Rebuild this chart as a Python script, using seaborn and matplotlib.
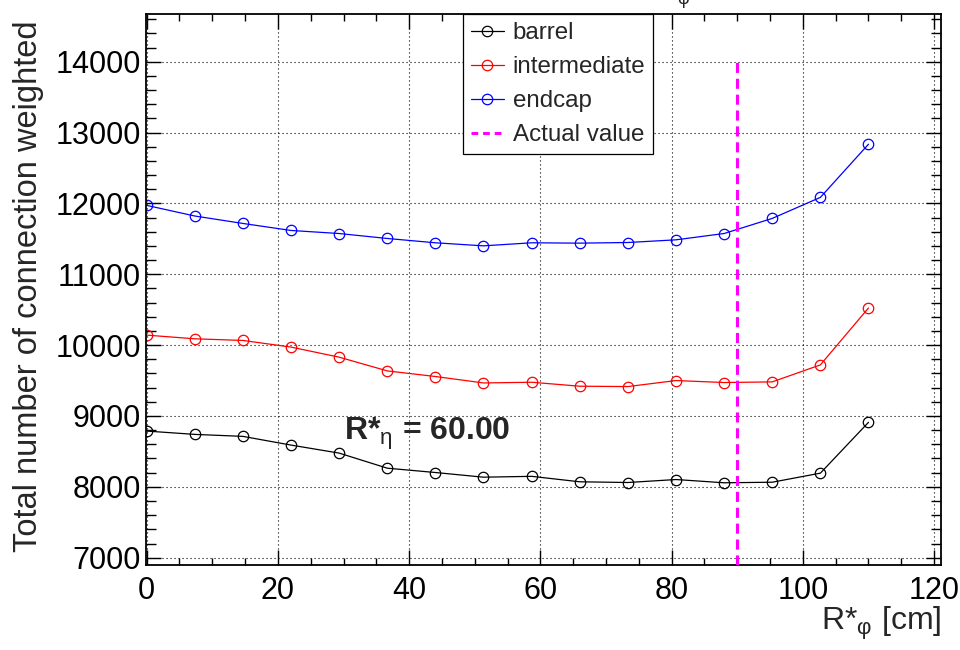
import matplotlib
matplotlib.use("Agg")
import matplotlib.pyplot as plt
from matplotlib.lines import Line2D
from matplotlib.ticker import MultipleLocator
import seaborn as sns

# R*_phi scan points [cm]
r_phi = [0.0, 7.33, 14.67, 22.0, 29.33, 36.67, 44.0, 51.33,
         58.67, 66.0, 73.33, 80.67, 88.0, 95.33, 102.67, 110.0]

# weighted connection counts per detector region
barrel = [8787, 8740, 8712, 8589, 8476, 8263, 8202, 8136,
          8148, 8071, 8061, 8103, 8057, 8065, 8193, 8910]
intermediate = [10141, 10089, 10066, 9972, 9830, 9636, 9557, 9466,
                9476, 9420, 9415, 9500, 9472, 9481, 9721, 10524]
endcap = [11972, 11822, 11717, 11618, 11575, 11505, 11444, 11401,
          11444, 11439, 11448, 11486, 11575, 11788, 12085, 12835]

series_names = ["barrel", "intermediate", "endcap"]
series_colors = ["black", "red", "blue"]

actual_value = 90.0
actual_top = 14000
r_eta = 60.00

sns.set_style("ticks")
plt.rcParams["font.family"] = ["Liberation Sans", "DejaVu Sans"]
plt.rcParams["mathtext.fontset"] = "custom"
plt.rcParams["mathtext.rm"] = "Liberation Sans"
plt.rcParams["mathtext.it"] = "Liberation Sans:italic"
plt.rcParams["mathtext.bf"] = "Liberation Sans:bold"

fig = plt.figure(figsize=(9.6, 6.5), dpi=100)
ax = fig.add_axes([0.1521, 0.1308, 0.8281, 0.8469])

ymin, ymax = 6897, 14666
for name, vals, col in zip(series_names, [barrel, intermediate, endcap], series_colors):
    sns.lineplot(x=r_phi, y=vals, ax=ax, color=col, linewidth=0.9,
                 marker="o", markersize=7.5, mfc="none", mec=col, mew=0.9,
                 legend=False)

ax.vlines(actual_value, ymin, actual_top, colors="#ff00ff", linewidth=2.2,
          linestyles=(0, (3.3, 1.9)), zorder=3)

ax.set_xlim(-0.1, 121.05)
ax.set_ylim(ymin, ymax)

ax.xaxis.set_major_locator(MultipleLocator(20))
ax.xaxis.set_minor_locator(MultipleLocator(5))
ax.yaxis.set_major_locator(MultipleLocator(1000))
ax.yaxis.set_minor_locator(MultipleLocator(200))

ax.grid(True, which="major", color="black", linestyle=(0, (1, 2.6)), linewidth=0.8)
ax.set_axisbelow(True)

ax.tick_params(axis="both", which="both", direction="in", top=True, right=True,
               labelsize=22, width=1.0, color="black", labelcolor="black")
ax.tick_params(axis="both", which="major", length=11)
ax.tick_params(axis="x", which="major", pad=8)
ax.tick_params(axis="y", which="major", pad=3.5)
ax.tick_params(axis="y", which="minor", length=7.5)
ax.tick_params(axis="x", which="minor", length=5)

for sp in ax.spines.values():
    sp.set_linewidth(1.3)
    sp.set_color("black")

ax.set_xlabel(r"R*$_{\mathrm{φ}}$ [cm]", fontsize=23, loc="right")
ax.xaxis.set_label_coords(1.0, -0.072)
ax.set_ylabel("Total number of connection weighted", fontsize=23.5, loc="top")
ax.yaxis.set_label_coords(-0.128, 0.99)

ax.text(30, 8665, r"R*$_{\mathrm{η}}$ = %.2f" % r_eta, fontsize=23,
        fontweight="bold", va="baseline", ha="left")

handles = [Line2D([], [], color=c, linewidth=0.9, marker="o", markersize=7.5,
                  mfc="none", mec=c, mew=0.9) for c in series_colors]
handles.append(Line2D([], [], color="#ff00ff", linewidth=2.2, linestyle=(0, (2.2, 1.6))))
labels = series_names + ["Actual value"]
leg = ax.legend(handles, labels, loc="upper left", bbox_to_anchor=(0.399, 1.0),
                fontsize=17.4, frameon=True, fancybox=False, shadow=False,
                borderpad=0.32, labelspacing=0.5, handlelength=1.36,
                handletextpad=0.36, borderaxespad=0.0)
leg.get_frame().set_edgecolor("black")
leg.get_frame().set_linewidth(0.9)
leg.get_frame().set_alpha(1.0)

fig.text(683 / 960, 1 - 4 / 650, "φ", fontsize=13, ha="center", va="baseline")

fig.savefig("out.png", dpi=100)
